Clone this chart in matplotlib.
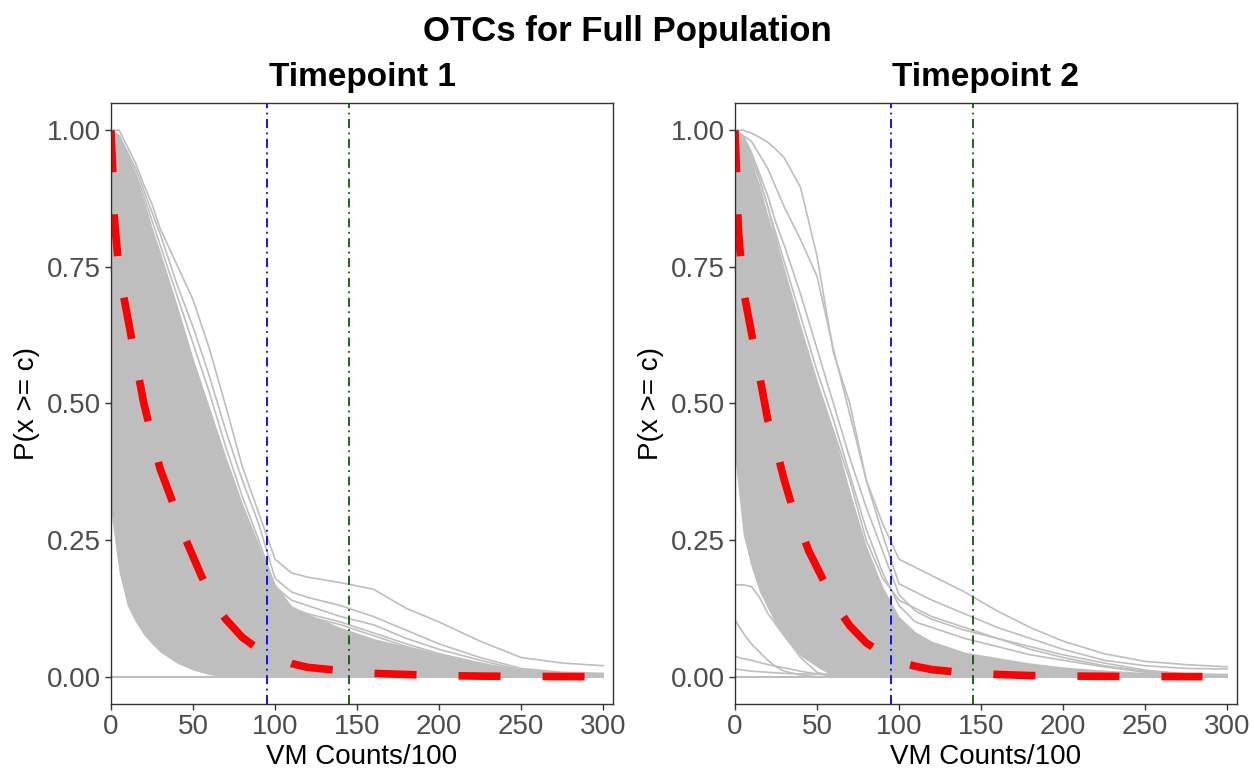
import matplotlib.pyplot as plt
import numpy as np

plt.rcParams['font.family'] = ['Liberation Sans', 'DejaVu Sans']

# shared x grid (VM Counts/100)
x_grid = [0, 5, 10, 15, 20, 25, 30, 40, 50, 60, 70, 80, 90, 100,
          110, 120, 140, 160, 180, 200, 225, 250, 275, 300]

# Timepoint 1: dense band of individual curves (upper / lower edge)
band1_hi = [1.00, 0.99, 0.96, 0.92, 0.87, 0.82, 0.77, 0.68, 0.58, 0.49, 0.40, 0.31,
            0.24, 0.17, 0.13, 0.115, 0.09, 0.07, 0.055, 0.04, 0.025, 0.014, 0.007, 0.005]
band1_lo = [0.30, 0.19, 0.13, 0.10, 0.077, 0.06, 0.045, 0.025, 0.012, 0.004, 0.0, 0.0,
            0.0, 0.0, 0.0, 0.0, 0.0, 0.0, 0.0, 0.0, 0.0, 0.0, 0.0, 0.0]
curves1 = [
    [1.00, 1.00, 0.97, 0.94, 0.90, 0.865, 0.82, 0.755, 0.69, 0.60, 0.495, 0.385,
     0.30, 0.215, 0.19, 0.182, 0.172, 0.16, 0.125, 0.10, 0.065, 0.035, 0.025, 0.02],
    [1.00, 0.99, 0.96, 0.93, 0.89, 0.85, 0.81, 0.72, 0.64, 0.55, 0.45, 0.36,
     0.28, 0.18, 0.155, 0.145, 0.13, 0.11, 0.085, 0.06, 0.035, 0.015, 0.008, 0.006],
    [1.00, 0.99, 0.955, 0.92, 0.88, 0.835, 0.79, 0.70, 0.61, 0.52, 0.42, 0.33,
     0.25, 0.165, 0.14, 0.13, 0.11, 0.095, 0.07, 0.05, 0.03, 0.012, 0.006, 0.005],
    [1.00, 0.985, 0.95, 0.91, 0.87, 0.82, 0.775, 0.68, 0.58, 0.49, 0.40, 0.315,
     0.24, 0.15, 0.125, 0.115, 0.10, 0.08, 0.06, 0.042, 0.025, 0.01, 0.004, 0.003],
    [1.00, 0.98, 0.94, 0.90, 0.85, 0.80, 0.75, 0.65, 0.55, 0.46, 0.37, 0.29,
     0.22, 0.14, 0.12, 0.11, 0.095, 0.075, 0.055, 0.04, 0.022, 0.008, 0.003, 0.002],
    [0.45, 0.27, 0.19, 0.145, 0.11, 0.085, 0.065, 0.038, 0.02, 0.008, 0.002, 0.0,
     0.0, 0.0, 0.0, 0.0, 0.0, 0.0, 0.0, 0.0, 0.0, 0.0, 0.0, 0.0],
    [0.60, 0.36, 0.25, 0.185, 0.14, 0.11, 0.085, 0.05, 0.028, 0.014, 0.005, 0.001,
     0.0, 0.0, 0.0, 0.0, 0.0, 0.0, 0.0, 0.0, 0.0, 0.0, 0.0, 0.0],
    [0.35, 0.21, 0.145, 0.11, 0.085, 0.066, 0.05, 0.03, 0.015, 0.005, 0.0, 0.0,
     0.0, 0.0, 0.0, 0.0, 0.0, 0.0, 0.0, 0.0, 0.0, 0.0, 0.0, 0.0],
]
mean1_x = [0, 1, 2, 5, 10, 15, 20, 25, 30, 35, 40, 45, 50, 55, 60, 65, 70, 80, 90,
           100, 110, 120, 140, 160, 180, 200, 225, 250, 290]
mean1_y = [1.0, 0.93, 0.84, 0.74, 0.66, 0.58, 0.50, 0.44, 0.38, 0.34, 0.30, 0.255,
           0.22, 0.185, 0.155, 0.125, 0.105, 0.072, 0.05, 0.035, 0.024, 0.017,
           0.011, 0.006, 0.004, 0.002, 0.001, 0.0005, 0.0]

# Timepoint 2
band2_hi = [1.00, 0.98, 0.945, 0.90, 0.845, 0.795, 0.74, 0.635, 0.54, 0.45, 0.34, 0.24,
            0.165, 0.11, 0.082, 0.065, 0.045, 0.035, 0.025, 0.018, 0.012, 0.008, 0.005, 0.004]
band2_lo = [0.40, 0.26, 0.20, 0.155, 0.125, 0.095, 0.075, 0.038, 0.018, 0.0, 0.0, 0.0,
            0.0, 0.0, 0.0, 0.0, 0.0, 0.0, 0.0, 0.0, 0.0, 0.0, 0.0, 0.0]
curves2 = [
    [1.00, 1.00, 0.995, 0.987, 0.978, 0.965, 0.95, 0.895, 0.77, 0.593, 0.50, 0.36,
     0.28, 0.215, 0.20, 0.185, 0.155, 0.12, 0.09, 0.065, 0.042, 0.028, 0.022, 0.018],
    [1.00, 0.99, 0.98, 0.955, 0.93, 0.895, 0.86, 0.80, 0.733, 0.60, 0.48, 0.36,
     0.26, 0.17, 0.155, 0.14, 0.115, 0.09, 0.07, 0.05, 0.03, 0.02, 0.015, 0.014],
    [1.00, 0.99, 0.96, 0.92, 0.88, 0.83, 0.79, 0.70, 0.60, 0.50, 0.40, 0.31,
     0.23, 0.15, 0.12, 0.105, 0.085, 0.07, 0.055, 0.04, 0.025, 0.012, 0.005, 0.003],
    [1.00, 0.98, 0.95, 0.91, 0.86, 0.81, 0.76, 0.66, 0.56, 0.47, 0.37, 0.27,
     0.19, 0.13, 0.10, 0.09, 0.07, 0.055, 0.04, 0.03, 0.018, 0.008, 0.003, 0.002],
    [1.00, 0.985, 0.955, 0.91, 0.86, 0.80, 0.745, 0.64, 0.54, 0.45, 0.36, 0.25,
     0.18, 0.14, 0.125, 0.11, 0.09, 0.07, 0.05, 0.035, 0.02, 0.01, 0.004, 0.003],
    [0.168, 0.168, 0.165, 0.145, 0.116, 0.095, 0.075, 0.035, 0.008, 0.0, 0.0, 0.0,
     0.0, 0.0, 0.0, 0.0, 0.0, 0.0, 0.0, 0.0, 0.0, 0.0, 0.0, 0.0],
    [0.104, 0.08, 0.06, 0.045, 0.03, 0.018, 0.01, 0.003, 0.0, 0.0, 0.0, 0.0,
     0.0, 0.0, 0.0, 0.0, 0.0, 0.0, 0.0, 0.0, 0.0, 0.0, 0.0, 0.0],
    [0.037, 0.033, 0.03, 0.026, 0.022, 0.019, 0.016, 0.01, 0.005, 0.002, 0.0, 0.0,
     0.0, 0.0, 0.0, 0.0, 0.0, 0.0, 0.0, 0.0, 0.0, 0.0, 0.0, 0.0],
    [0.014, 0.012, 0.01, 0.009, 0.008, 0.007, 0.006, 0.005, 0.005, 0.004, 0.004, 0.004,
     0.004, 0.004, 0.004, 0.004, 0.004, 0.004, 0.004, 0.004, 0.004, 0.004, 0.004, 0.004],
]
mean2_x = [0, 1, 2, 5, 10, 15, 20, 25, 30, 35, 40, 45, 50, 55, 60, 65, 70, 80, 90,
           100, 110, 120, 140, 160, 180, 200, 225, 250, 285]
mean2_y = [1.0, 0.92, 0.82, 0.71, 0.63, 0.55, 0.47, 0.42, 0.36, 0.31, 0.27, 0.23,
           0.20, 0.17, 0.14, 0.115, 0.093, 0.062, 0.042, 0.027, 0.019, 0.013,
           0.007, 0.004, 0.002, 0.0012, 0.0006, 0.0003, 0.0]

cutoffs = [95, 145]
cutoff_colors = ['#0000FF', '#006400']

panels = [
    ('Timepoint 1', band1_lo, band1_hi, curves1, mean1_x, mean1_y),
    ('Timepoint 2', band2_lo, band2_hi, curves2, mean2_x, mean2_y),
]

fig = plt.figure(figsize=(12.54, 7.73), dpi=100)
lefts = [0.0885, 0.5861]
gray = '#BEBEBE'

for left, (title, lo, hi, curves, mx, my) in zip(lefts, panels):
    ax = fig.add_axes([left, 0.0893, 0.4003, 0.7775])
    ax.fill_between(x_grid, lo, hi, color=gray, lw=0)
    for c in curves:
        ax.plot(x_grid, c, color=gray, lw=1.2)
    ax.plot([0, 300], [0, 0], color=gray, lw=1.5)
    for xc, col in zip(cutoffs, cutoff_colors):
        ax.axvline(xc, color=col, lw=1.3, dashes=(5, 2.5, 1, 2.5))
    ax.plot(mx, my, color='#FF0000', lw=5.5, dashes=(5.5, 5.5),
            dash_capstyle='butt')

    ax.set_xlim(0, 306)
    ax.set_ylim(-0.05, 1.05)
    ax.set_xticks([0, 50, 100, 150, 200, 250, 300])
    ax.set_yticks([0, 0.25, 0.5, 0.75, 1.0])
    ax.set_yticklabels(['0.00', '0.25', '0.50', '0.75', '1.00'])
    ax.tick_params(labelsize=20, colors='#333333', labelcolor='#4D4D4D',
                   length=4, width=1.0, pad=3)
    for s in ax.spines.values():
        s.set_color('#333333')
        s.set_linewidth(1.0)
    ax.set_xlabel('VM Counts/100', fontsize=20, labelpad=3)
    ax.set_ylabel('P(x >= c)', fontsize=20, labelpad=5)
    ax.set_title(title, fontsize=24, fontweight='bold', pad=12)

fig.suptitle('OTCs for Full Population', fontsize=25, fontweight='bold', y=0.98)

fig.savefig('out.png', dpi=100)
